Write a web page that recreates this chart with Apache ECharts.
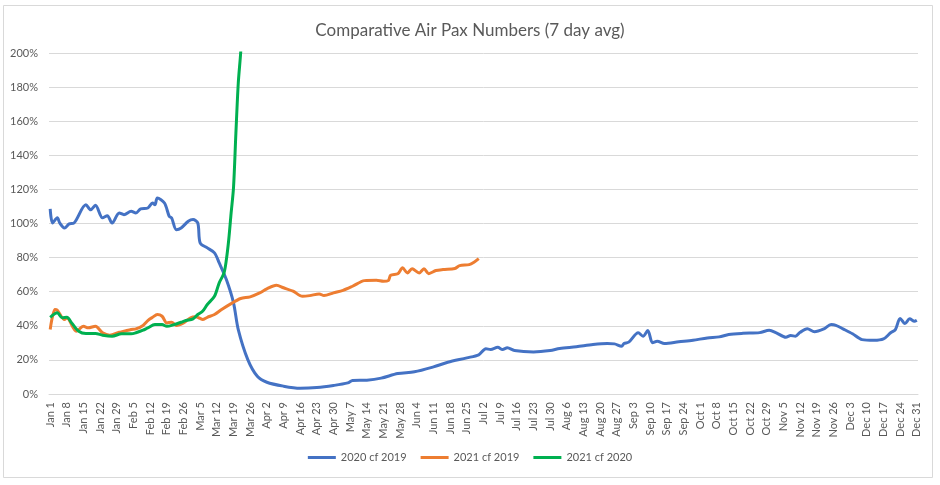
<!DOCTYPE html>
<html>
<head>
<meta charset="utf-8">
<script src="https://cdn.jsdelivr.net/npm/echarts@6/dist/echarts.min.js"></script>
<style>
  html, body { margin: 0; padding: 0; background: #fff; }
  #main { width: 940px; height: 485px; }
</style>
</head>
<body>
<div id="main"></div>
<script>
// day axis: Jan 1 .. Dec 31 (365 days), label every 7th day
const monthNames = ['Jan', 'Feb', 'Mar', 'Apr', 'May', 'Jun', 'Jul', 'Aug', 'Sep', 'Oct', 'Nov', 'Dec']
const monthDays = [31, 28, 31, 30, 31, 30, 31, 31, 30, 31, 30, 31]

// [day index, percent]
const pax2020vs2019 = [
  [0, 108.6], [1, 100.3], [3, 103.3], [4, 100.3], [6, 97.4], [8, 99.8], [10, 100.3],
  [15, 111], [17, 108], [19, 110.7], [22, 103.3], [24, 104.6], [26, 100.3], [29, 106.2],
  [31, 105.2], [34, 107.2], [36, 106.2], [38, 108.6], [41, 109.1], [43, 112], [44, 111],
  [45, 115], [48, 112], [50, 104.2], [51, 103.3], [53, 96.4], [55, 97.4], [58, 101.3],
  [60, 102.3], [62, 100.3], [63, 88.6], [66, 85.7], [69, 82.8], [71, 76.9], [74, 67.1],
  [77, 53.5], [79, 37.8], [83, 20.2], [87, 10.4], [91, 6.9], [98, 4.6], [105, 3.4],
  [112, 3.8], [119, 5], [125, 6.5], [127, 7.9], [133, 8.1], [139, 9.3], [146, 12],
  [153, 13], [161, 15.9], [167, 18.6], [175, 21.2], [180, 23], [183, 26.5], [185, 26.1],
  [188, 27.4], [190, 26.1], [192, 27.1], [195, 25.5], [203, 24.7], [210, 25.5], [214, 26.7],
  [221, 27.7], [228, 29], [234, 29.6], [237, 29.4], [240, 28], [241, 29.6], [243, 30.4],
  [247, 35.9], [249, 33.9], [251, 37.2], [253, 30], [255, 31], [258, 29.6], [264, 30.6],
  [270, 31.5], [276, 32.9], [281, 33.5], [285, 34.9], [291, 35.6], [298, 36], [302, 37.4],
  [305, 35.9], [309, 33.3], [311, 34.3], [313, 33.9], [315, 36.2], [318, 38.2], [321, 36.5],
  [325, 38.2], [328, 40.7], [330, 40.3], [333, 38.2], [337, 35.3], [341, 31.9], [346, 31.5],
  [350, 32.3], [353, 35.9], [355, 37.8], [357, 44.3], [359, 41.3], [361, 44.1], [363, 42.7],
  [364, 43.3]
]
const pax2021vs2019 = [
  [0, 37.8], [2, 49.5], [3, 49.1], [6, 43.7], [7, 44.7], [11, 36.8], [14, 39.7], [16, 38.8],
  [19, 39.7], [22, 35.9], [25, 34.5], [29, 36.2], [31, 36.8], [34, 37.8], [36, 38.2],
  [39, 40.2], [41, 43.1], [43, 45], [45, 46.6], [47, 45.6], [49, 41.7], [51, 42.1],
  [53, 40.2], [56, 41.7], [59, 44.7], [61, 45.3], [63, 44.3], [64, 43.7], [66, 45],
  [69, 46.6], [72, 49.5], [76, 53], [80, 56], [84, 57], [88, 59.3], [91, 61.7], [95, 63.8],
  [98, 62.3], [102, 60.3], [106, 57.3], [109, 57.7], [113, 58.7], [115, 57.7], [119, 59.3],
  [123, 60.8], [127, 63.2], [132, 66.5], [137, 66.7], [140, 66.1], [142, 66.5], [143, 69.6],
  [146, 70.5], [148, 74], [150, 71], [152, 73.4], [155, 71], [157, 73.4], [159, 70.6],
  [162, 72.4], [165, 73], [170, 73.6], [172, 75.3], [176, 75.9], [178, 77.3], [180, 79.4]
]
const pax2021vs2020 = [
  [0, 45], [3, 47.6], [5, 44.7], [7, 45], [9, 41.7], [12, 36.8], [15, 35.5], [19, 35.5],
  [22, 34.5], [26, 33.9], [30, 35.3], [34, 35.3], [36, 35.9], [39, 37.4], [41, 38.8],
  [44, 40.7], [47, 40.7], [49, 39.7], [52, 40.7], [55, 42.1], [57, 43.1], [60, 44.1],
  [62, 46.6], [64, 48.5], [66, 52.5], [69, 57.3], [71, 65.2], [73, 71], [74, 78.8],
  [75, 90.6], [76, 106.2], [77, 121], [78, 153], [79, 182.4], [80, 200], [81, 225]
]

const yTicks = { min: 0, max: 200, step: 20 }

let days = []
monthNames.forEach((m, i) => {
  for (let d = 1; d <= monthDays[i]; d++) days.push(m + ' ' + d)
})

const txt = '#595959'
const font = 'Lato, "Open Sans", sans-serif'

let myChart = echarts.init(document.getElementById('main'))

function lineSeries(name, data, color) {
  return {
    name: name,
    type: 'line',
    data: data,
    showSymbol: false,
    smooth: 0.3,
    clip: true,
    lineStyle: { color: color, width: 3 },
    itemStyle: { color: color }
  }
}

let option = {
  backgroundColor: '#fff',
  animation: false,
  textStyle: { fontFamily: font },
  title: {
    text: 'Comparative Air Pax Numbers (7 day avg)',
    left: 'center',
    top: 17,
    textStyle: { color: txt, fontSize: 17, fontWeight: 'normal', fontFamily: font }
  },
  legend: {
    bottom: 17,
    left: 'center',
    icon: 'rect',
    itemWidth: 28,
    itemHeight: 3,
    itemGap: 14,
    textStyle: { color: txt, fontSize: 11, fontFamily: font }
  },
  graphic: [{
    type: 'rect',
    shape: { x: 3.5, y: 5.5, width: 929, height: 472 },
    style: { fill: 'none', stroke: '#d9d9d9', lineWidth: 1 },
    silent: true
  }],
  grid: { left: 49, right: 22, top: 53, bottom: 91 },
  xAxis: {
    type: 'category',
    data: days,
    boundaryGap: true,
    axisLine: { lineStyle: { color: '#d9d9d9' } },
    axisTick: { show: false },
    axisLabel: {
      interval: 6,
      rotate: 90,
      margin: 8,
      color: txt,
      fontSize: 11,
      fontFamily: font
    },
    splitLine: { show: false }
  },
  yAxis: {
    type: 'value',
    min: yTicks.min,
    max: yTicks.max,
    interval: yTicks.step,
    axisLine: { show: false },
    axisTick: { show: false },
    axisLabel: { formatter: '{value}%', color: txt, fontSize: 11, margin: 11, fontFamily: font },
    splitLine: { lineStyle: { color: '#d9d9d9' } }
  },
  series: [
    lineSeries('2020 cf 2019', pax2020vs2019, '#4472c4'),
    lineSeries('2021 cf 2019', pax2021vs2019, '#ed7d31'),
    lineSeries('2021 cf 2020', pax2021vs2020, '#00b050')
  ]
}

myChart.setOption(option)
</script>
</body>
</html>
